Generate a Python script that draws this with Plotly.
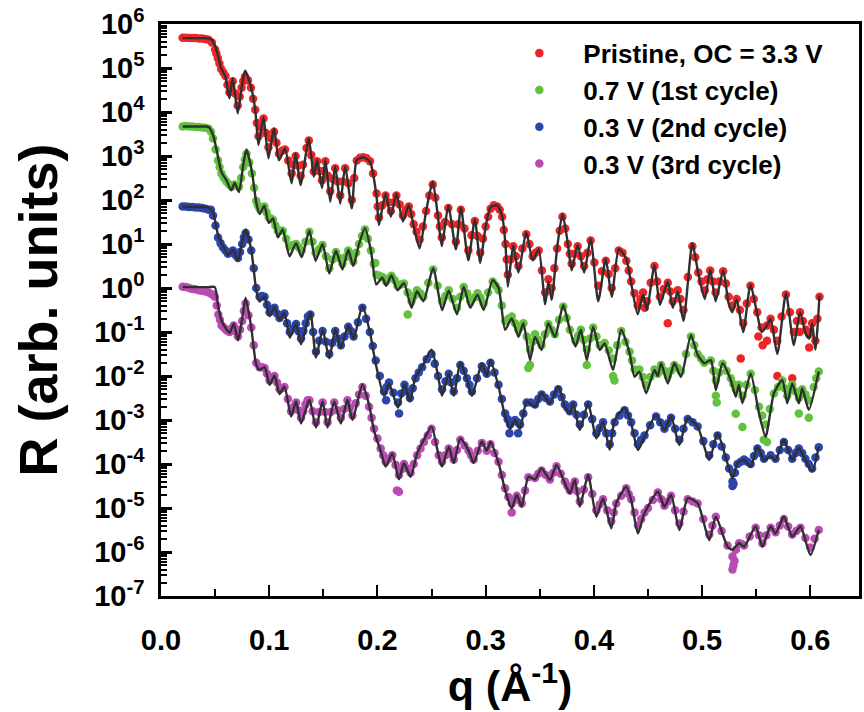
import numpy as np
import plotly.graph_objects as go

# ---------------- Pristine, OC = 3.3 V ----------------
q_red = [
    0.020, 0.023, 0.026, 0.029, 0.032, 0.035, 0.038, 0.041, 0.044, 0.047,
    0.050, 0.0525, 0.0556, 0.0596, 0.0632, 0.0663, 0.0709, 0.0745, 0.0776, 0.0831,
    0.0871, 0.0901, 0.0947, 0.0993, 0.1045, 0.1090, 0.1146, 0.1207, 0.1244, 0.1290,
    0.1366, 0.1412, 0.1442, 0.1488, 0.1519, 0.1564, 0.1610, 0.1656, 0.1702, 0.1763,
    0.1809, 0.1870, 0.1931, 0.1992, 0.2014, 0.2075, 0.2124, 0.2175, 0.2236, 0.2290,
    0.2335, 0.2390, 0.2450, 0.2511, 0.2560, 0.2595, 0.2655, 0.2725, 0.2771, 0.2840,
    0.2900, 0.2950, 0.3000, 0.3046, 0.3107, 0.3153, 0.3184, 0.3205, 0.3255, 0.3303,
    0.3375, 0.3435, 0.3490, 0.3550, 0.3580, 0.3610, 0.3660, 0.3710, 0.3760, 0.3795,
    0.3850, 0.3910, 0.3970, 0.4040, 0.4110, 0.4165, 0.4230, 0.4300, 0.4345, 0.4405,
    0.4455, 0.4490, 0.4560, 0.4610, 0.4683, 0.4729, 0.4775, 0.4828, 0.4910, 0.4965,
    0.5025, 0.5075, 0.5125, 0.5195, 0.5245, 0.5280, 0.5320, 0.5380, 0.5447, 0.5510,
    0.5550, 0.5600, 0.5633, 0.5695, 0.5775, 0.5848, 0.5905, 0.5960, 0.5990, 0.6017,
    0.6047, 0.6085]
# log10 R of the model fit
fit_red = [
    5.68, 5.68, 5.68, 5.68, 5.68, 5.68, 5.68, 5.68, 5.67, 5.64,
    5.50, 5.30, 4.99, 4.80, 4.31, 4.77, 3.97, 4.55, 4.94, 4.58,
    4.05, 3.25, 3.88, 2.95, 3.63, 2.90, 3.17, 2.38, 3.06, 2.34,
    3.40, 2.53, 2.91, 2.27, 2.91, 1.96, 2.76, 1.92, 2.76, 1.81,
    2.91, 2.97, 2.87, 2.08, 1.43, 2.15, 1.62, 2.15, 1.51, 1.89,
    1.40, 0.90, 1.75, 2.42, 1.60, 0.95, 1.87, 0.88, 1.83, 0.63,
    1.56, 0.57, 1.40, 1.84, 1.88, 1.63, 0.96, 0.03, 0.97, 0.35,
    1.27, 0.63, 0.88, -0.37, 0.15, -0.27, 0.90, 1.69, 1.00, 0.40,
    0.98, 0.35, 1.12, -0.30, 0.66, -0.20, 0.88, 0.66, 0.10, -0.60,
    -0.15, -0.50, 0.52, -0.38, 0.15, -0.45, -0.08, -0.75, 1.02, 0.33,
    -0.25, 0.42, -0.30, 0.40, -0.35, -0.55, -0.26, -1.00, 0.08, -0.60,
    -1.00, -0.85, -0.70, -1.50, -0.12, -1.30, -0.55, -1.05, -1.15, -0.80,
    -1.40, -0.17]
# log10 R of the measured reflectivity at the same q
meas_red = [
    5.69, 5.69, 5.68, 5.68, 5.68, 5.67, 5.67, 5.66, 5.64, 5.58,
    5.42, 5.22, 4.98, 4.82, 4.45, 4.70, 4.15, 4.55, 4.80, 4.55,
    4.05, 3.45, 3.85, 3.20, 3.55, 3.05, 3.15, 2.60, 3.00, 2.55,
    3.35, 2.65, 2.88, 2.45, 2.88, 2.20, 2.72, 2.10, 2.72, 2.00,
    2.90, 2.97, 2.88, 2.15, 1.60, 2.10, 1.75, 2.10, 1.65, 1.85,
    1.45, 1.10, 1.75, 2.35, 1.65, 1.15, 1.82, 1.05, 1.78, 0.85,
    1.52, 0.80, 1.40, 1.80, 1.85, 1.62, 1.00, 0.30, 0.95, 0.50,
    1.22, 0.72, 0.85, -0.10, 0.20, 0.00, 0.90, 1.62, 1.00, 0.55,
    0.95, 0.50, 1.08, 0.05, 0.62, 0.00, 0.85, 0.62, 0.15, -0.40,
    -0.10, -0.30, 0.50, -0.20, 0.12, -0.30, -0.05, -0.50, 0.95, 0.35,
    -0.05, 0.40, -0.10, 0.38, -0.20, -0.40, -0.25, -0.80, 0.05, -0.55,
    -0.90, -0.85, -0.70, -1.20, -0.15, -1.00, -0.55, -0.95, -1.05, -0.80,
    -1.20, -0.20]
# further measured points along the slopes
q_red_mid = [
    0.0512, 0.0540, 0.0576, 0.0614, 0.0648, 0.0686, 0.0727, 0.0760, 0.0803, 0.0851,
    0.0886, 0.0924, 0.0970, 0.1019, 0.1067, 0.1118, 0.1176, 0.1225, 0.1267, 0.1312,
    0.1345, 0.1389, 0.1427, 0.1465, 0.1503, 0.1541, 0.1587, 0.1633, 0.1679, 0.1732,
    0.1786, 0.1840, 0.1900, 0.1960, 0.2003, 0.2045, 0.2100, 0.2150, 0.2205, 0.2263,
    0.2312, 0.2362, 0.2420, 0.2480, 0.2535, 0.2578, 0.2625, 0.2690, 0.2748, 0.2805,
    0.2870, 0.2925, 0.2975, 0.3023, 0.3076, 0.3130, 0.3168, 0.3195, 0.3230, 0.3279,
    0.3339, 0.3405, 0.3462, 0.3520, 0.3635, 0.3685, 0.3735, 0.3778, 0.3822, 0.3880,
    0.3940, 0.4005, 0.4075, 0.4137, 0.4197, 0.4265, 0.4322, 0.4375, 0.4430, 0.4525,
    0.4585, 0.4646, 0.4706, 0.4801, 0.4869, 0.4937, 0.4995, 0.5050, 0.5100, 0.5160,
    0.5220, 0.5350, 0.5413, 0.5478, 0.5664, 0.5735, 0.5811, 0.5876, 0.5932, 0.6066]
meas_red_mid = [
    5.33, 5.10, 4.90, 4.62, 4.58, 4.42, 4.35, 4.70, 4.72, 4.30,
    3.75, 3.65, 3.52, 3.40, 3.30, 3.12, 2.90, 2.80, 2.78, 2.80,
    3.18, 3.02, 2.78, 2.66, 2.66, 2.55, 2.48, 2.42, 2.42, 2.38,
    2.50, 2.96, 2.95, 2.60, 1.85, 1.88, 1.95, 1.95, 1.90, 1.78,
    1.68, 1.28, 1.40, 2.10, 2.05, 1.40, 1.50, 1.45, 1.45, 1.35,
    1.20, 1.18, 1.12, 1.62, 1.88, 1.78, 1.32, 0.65, 0.65, 0.72,
    0.90, 1.00, 0.80, 0.40, 0.45, 1.30, 1.35, 0.78, 0.78, 0.72,
    0.80, 0.58, 0.38, 0.32, 0.45, 0.80, 0.40, -0.12, -0.25, 0.12,
    0.15, -0.02, -0.08, -0.25, 0.25, 0.70, 0.15, 0.20, 0.15, 0.15,
    0.10, -0.50, -0.35, -0.25, -0.95, -0.65, -0.55, -0.75, -0.75, -0.70]
q_red_extra = [0.4683, 0.5357, 0.5520, 0.5560, 0.5600, 0.5695, 0.5833, 0.5900, 0.5990, 0.4470]
meas_red_extra = [-0.80, -1.60, -1.10, -1.30, -1.20, -2.00, -2.05, -1.00, -1.35, -0.45]

# ---------------- 0.7 V (1st cycle) ----------------
q_green = [
    0.020, 0.023, 0.026, 0.029, 0.032, 0.035, 0.038, 0.041, 0.044, 0.0481,
    0.0527, 0.0558, 0.0604, 0.0650, 0.0681, 0.0720, 0.0760, 0.0790, 0.0840, 0.0880,
    0.0911, 0.0955, 0.0995, 0.1035, 0.1080, 0.1125, 0.1188, 0.1248, 0.1300, 0.1371,
    0.1428, 0.1493, 0.1555, 0.1616, 0.1677, 0.1730, 0.1777, 0.1830, 0.1885, 0.1940,
    0.1990, 0.2045, 0.2080, 0.2130, 0.2185, 0.2245, 0.2315, 0.2365, 0.2425, 0.2515,
    0.2597, 0.2659, 0.2735, 0.2797, 0.2858, 0.2925, 0.2981, 0.3065, 0.3120, 0.3180,
    0.3241, 0.3303, 0.3349, 0.3410, 0.3456, 0.3517, 0.3579, 0.3640, 0.3717, 0.3778,
    0.3830, 0.3880, 0.3935, 0.3993, 0.4054, 0.4100, 0.4177, 0.4253, 0.4330, 0.4376,
    0.4420, 0.4483, 0.4560, 0.4590, 0.4621, 0.4683, 0.4744, 0.4805, 0.4897, 0.4959,
    0.5020, 0.5081, 0.5127, 0.5189, 0.5265, 0.5311, 0.5340, 0.5373, 0.5449, 0.5526,
    0.5587, 0.5664, 0.5741, 0.5787, 0.5833, 0.5894, 0.5925, 0.5986, 0.6078]
fit_green = [
    3.67, 3.67, 3.67, 3.67, 3.67, 3.67, 3.67, 3.67, 3.66, 3.48,
    2.98, 2.64, 2.45, 2.22, 2.39, 2.18, 2.80, 3.15, 2.65, 1.95,
    1.68, 1.87, 1.48, 1.58, 1.15, 1.33, 0.72, 1.02, 0.70, 1.31,
    0.62, 1.00, 0.33, 0.85, 0.42, 0.87, 0.50, 1.00, 1.36, 0.85,
    0.08, 0.24, 0.05, 0.29, -0.05, 0.11, -0.45, -0.07, -0.30, 0.45,
    -0.50, -0.06, -0.60, 0.03, -0.45, -0.15, -0.50, 0.18, 0.00, -0.95,
    -0.69, -1.11, -0.80, -1.64, -1.11, -1.41, -0.80, -1.11, -0.39, -0.95,
    -1.33, -0.95, -1.64, -0.88, -1.41, -1.26, -1.86, -0.95, -1.48, -2.02,
    -1.90, -2.39, -1.86, -2.00, -1.71, -2.17, -1.71, -2.02, -1.07, -1.52,
    -1.71, -1.64, -2.32, -1.71, -2.09, -2.47, -2.20, -2.62, -1.94, -2.85,
    -3.38, -2.39, -2.09, -2.62, -2.17, -2.62, -2.28, -2.77, -1.90]
meas_green = [
    3.67, 3.68, 3.67, 3.67, 3.66, 3.66, 3.65, 3.64, 3.62, 3.40,
    2.90, 2.60, 2.42, 2.30, 2.35, 2.30, 2.75, 3.05, 2.60, 1.98,
    1.80, 1.85, 1.60, 1.55, 1.30, 1.30, 0.95, 1.00, 0.85, 1.28,
    0.80, 0.98, 0.45, 0.82, 0.55, 0.85, 0.60, 1.00, 1.33, 0.85,
    0.30, 0.25, 0.15, 0.28, 0.05, 0.10, -0.30, -0.05, -0.20, 0.42,
    -0.30, -0.05, -0.45, 0.02, -0.30, -0.12, -0.35, 0.15, -0.05, -0.75,
    -0.65, -0.95, -0.80, -1.40, -1.05, -1.30, -0.82, -1.05, -0.42, -0.95,
    -1.20, -0.95, -1.40, -0.90, -1.30, -1.25, -1.60, -0.98, -1.45, -1.85,
    -1.85, -2.20, -1.85, -1.95, -1.75, -2.00, -1.75, -1.90, -1.10, -1.50,
    -1.70, -1.65, -2.10, -1.72, -2.05, -2.30, -2.20, -2.45, -1.95, -2.70,
    -3.10, -2.40, -2.10, -2.45, -2.20, -2.50, -2.30, -2.55, -1.90]
q_green_mid = [
    0.0462, 0.0504, 0.0542, 0.0580, 0.0627, 0.0700, 0.0740, 0.0775, 0.0815, 0.0860,
    0.0895, 0.0933, 0.0975, 0.1015, 0.1057, 0.1103, 0.1156, 0.1218, 0.1274, 0.1335,
    0.1400, 0.1460, 0.1524, 0.1585, 0.1646, 0.1703, 0.1753, 0.1803, 0.1857, 0.1912,
    0.1965, 0.2018, 0.2105, 0.2158, 0.2215, 0.2280, 0.2340, 0.2395, 0.2470, 0.2556,
    0.2628, 0.2697, 0.2766, 0.2828, 0.2892, 0.2953, 0.3023, 0.3093, 0.3150, 0.3210,
    0.3272, 0.3326, 0.3380, 0.3433, 0.3486, 0.3548, 0.3610, 0.3678, 0.3748, 0.3855,
    0.3908, 0.3964, 0.4024, 0.4138, 0.4215, 0.4292, 0.4353, 0.4452, 0.4522, 0.4652,
    0.4714, 0.4775, 0.4851, 0.4928, 0.4990, 0.5104, 0.5158, 0.5227, 0.5288, 0.5411,
    0.5488, 0.5556, 0.5625, 0.5702, 0.5764, 0.5810, 0.5863, 0.5955, 0.6032, 0.6055]
meas_green_mid = [
    3.55, 3.15, 2.75, 2.50, 2.36, 2.32, 2.50, 2.92, 2.85, 2.28,
    1.88, 1.82, 1.72, 1.58, 1.42, 1.30, 1.12, 0.98, 0.92, 1.05,
    1.05, 0.88, 0.72, 0.65, 0.68, 0.70, 0.72, 0.80, 1.18, 1.12,
    0.55, 0.28, 0.22, 0.18, 0.08, -0.10, -0.18, -0.12, 0.12, 0.05,
    -0.18, -0.25, -0.20, -0.12, -0.22, -0.22, -0.10, 0.05, -0.40, -0.70,
    -0.80, -0.88, -1.10, -1.22, -1.18, -1.05, -0.95, -0.72, -0.68, -1.08,
    -1.18, -1.15, -1.10, -1.42, -1.30, -1.22, -1.65, -2.02, -2.02, -1.88,
    -1.88, -1.82, -1.50, -1.30, -1.60, -1.88, -1.92, -1.88, -2.18, -2.20,
    -2.32, -2.90, -2.75, -2.25, -2.28, -2.32, -2.35, -2.42, -2.25, -2.05]
q_green_extra = [0.1980, 0.2280, 0.3395, 0.3410, 0.3935, 0.4177, 0.4190, 0.5127,
                 0.5135, 0.5311, 0.5373, 0.5570, 0.5600, 0.5894, 0.5986]
meas_green_extra = [0.57, -0.60, -1.82, -1.75, -1.75, -2.00, -2.10, -2.45,
                    -2.60, -2.86, -3.16, -3.45, -3.50, -2.85, -2.95]

# ---------------- 0.3 V (2nd cycle) ----------------
q_blue = [
    0.020, 0.023, 0.026, 0.029, 0.032, 0.035, 0.038, 0.041, 0.044, 0.0481,
    0.0527, 0.0573, 0.0619, 0.0665, 0.0711, 0.0750, 0.0782, 0.0834, 0.0880, 0.0911,
    0.0957, 0.1003, 0.1049, 0.1095, 0.1141, 0.1190, 0.1248, 0.1294, 0.1380, 0.1432,
    0.1493, 0.1555, 0.1610, 0.1662, 0.1730, 0.1780, 0.1861, 0.1930, 0.1984, 0.2061,
    0.2107, 0.2190, 0.2250, 0.2300, 0.2352, 0.2413, 0.2500, 0.2560, 0.2597, 0.2659,
    0.2705, 0.2766, 0.2827, 0.2873, 0.2965, 0.3010, 0.3045, 0.3119, 0.3180, 0.3226,
    0.3272, 0.3318, 0.3379, 0.3456, 0.3517, 0.3594, 0.3671, 0.3732, 0.3778, 0.3809,
    0.3870, 0.3947, 0.4023, 0.4085, 0.4146, 0.4192, 0.4284, 0.4345, 0.4407, 0.4468,
    0.4575, 0.4652, 0.4713, 0.4790, 0.4867, 0.4959, 0.5066, 0.5143, 0.5219, 0.5281,
    0.5327, 0.5388, 0.5449, 0.5511, 0.5572, 0.5633, 0.5679, 0.5756, 0.5833, 0.5894,
    0.5955, 0.6017, 0.6078]
fit_blue = [
    1.84, 1.84, 1.84, 1.84, 1.84, 1.84, 1.84, 1.84, 1.83, 1.71,
    1.21, 0.96, 0.75, 0.87, 0.62, 1.05, 1.33, 0.87, -0.05, -0.31,
    -0.18, -0.64, -0.43, -0.73, -0.56, -1.13, -0.81, -1.28, -0.55, -1.58,
    -0.95, -1.60, -0.95, -1.37, -0.85, -1.15, -0.40, -1.00, -1.72, -2.45,
    -2.17, -2.72, -2.18, -2.58, -2.02, -1.79, -1.40, -2.00, -2.45, -1.94,
    -2.45, -1.70, -2.09, -2.45, -1.72, -2.00, -1.65, -2.24, -2.92, -3.20,
    -3.00, -3.20, -2.58, -2.70, -2.39, -2.62, -2.24, -2.70, -2.85, -2.62,
    -3.23, -2.62, -3.42, -3.04, -3.68, -3.00, -2.73, -3.08, -3.68, -3.38,
    -2.89, -3.23, -2.92, -3.57, -2.96, -3.15, -3.91, -3.30, -3.85, -4.33,
    -3.98, -3.91, -4.06, -3.61, -3.91, -3.83, -3.91, -3.45, -3.91, -3.64,
    -3.91, -4.17, -3.61]
meas_blue = [
    1.85, 1.85, 1.84, 1.84, 1.83, 1.83, 1.82, 1.80, 1.78, 1.65,
    1.15, 0.92, 0.78, 0.85, 0.68, 1.00, 1.25, 0.85, 0.00, -0.20,
    -0.20, -0.55, -0.45, -0.68, -0.58, -1.00, -0.82, -1.15, -0.60, -1.45,
    -0.98, -1.50, -0.98, -1.30, -0.88, -1.10, -0.45, -1.00, -1.65, -2.35,
    -2.15, -2.60, -2.20, -2.50, -2.05, -1.80, -1.50, -2.00, -2.30, -1.95,
    -2.35, -1.75, -2.05, -2.35, -1.78, -1.95, -1.70, -2.20, -2.85, -3.10,
    -3.00, -3.10, -2.60, -2.65, -2.42, -2.58, -2.30, -2.65, -2.80, -2.65,
    -3.10, -2.65, -3.30, -3.05, -3.55, -3.05, -2.78, -3.05, -3.55, -3.35,
    -2.92, -3.20, -2.95, -3.45, -2.98, -3.15, -3.80, -3.35, -3.85, -4.40,
    -4.00, -3.90, -4.00, -3.65, -3.88, -3.80, -3.88, -3.50, -3.88, -3.65,
    -3.88, -4.10, -3.62]
q_blue_mid = [
    0.0462, 0.0504, 0.0550, 0.0596, 0.0642, 0.0688, 0.0730, 0.0766, 0.0808, 0.0857,
    0.0934, 0.0980, 0.1026, 0.1072, 0.1118, 0.1165, 0.1219, 0.1271, 0.1315, 0.1337,
    0.1358, 0.1406, 0.1462, 0.1524, 0.1582, 0.1636, 0.1696, 0.1755, 0.1820, 0.1895,
    0.1957, 0.2022, 0.2084, 0.2148, 0.2220, 0.2275, 0.2326, 0.2382, 0.2456, 0.2530,
    0.2630, 0.2682, 0.2735, 0.2797, 0.2850, 0.2920, 0.2987, 0.3082, 0.3150, 0.3203,
    0.3295, 0.3348, 0.3418, 0.3486, 0.3555, 0.3632, 0.3702, 0.3755, 0.3840, 0.3908,
    0.3985, 0.4054, 0.4115, 0.4169, 0.4238, 0.4315, 0.4376, 0.4437, 0.4520, 0.4613,
    0.4682, 0.4751, 0.4828, 0.4913, 0.5012, 0.5104, 0.5181, 0.5250, 0.5304, 0.5358,
    0.5418, 0.5480, 0.5542, 0.5718, 0.5795, 0.5864, 0.5925, 0.5986, 0.6048]
meas_blue_mid = [
    1.78, 1.42, 1.02, 0.85, 0.80, 0.75, 0.82, 1.15, 1.10, 0.45,
    -0.18, -0.38, -0.50, -0.58, -0.62, -0.80, -0.92, -0.98, -0.98, -0.80,
    -0.65, -1.00, -1.20, -1.22, -1.25, -1.15, -1.10, -0.98, -0.78, -0.70,
    -1.32, -2.00, -2.25, -2.38, -2.40, -2.35, -2.28, -1.92, -1.62, -1.72,
    -2.12, -2.15, -2.05, -1.88, -2.20, -2.05, -1.85, -1.92, -2.52, -2.98,
    -3.05, -2.85, -2.60, -2.52, -2.50, -2.42, -2.48, -2.72, -2.88, -2.88,
    -2.98, -3.18, -3.30, -3.30, -2.90, -2.90, -3.30, -3.45, -3.12, -3.05,
    -3.08, -3.20, -3.20, -3.05, -3.48, -3.55, -3.60, -4.10, -4.20, -3.95,
    -3.95, -3.82, -3.75, -3.68, -3.68, -3.75, -3.75, -4.00, -3.85]
q_blue_extra = [0.2200, 0.3220, 0.3300, 0.5281, 0.5290, 0.2080]
meas_blue_extra = [-2.85, -3.30, -3.30, -4.50, -4.45, -2.55]

# ---------------- 0.3 V (3rd cycle) ----------------
q_mag = [
    0.020, 0.023, 0.026, 0.029, 0.032, 0.035, 0.038, 0.041, 0.044, 0.0497,
    0.0530, 0.0560, 0.0600, 0.0635, 0.0672, 0.0711, 0.0750, 0.0782, 0.0834, 0.0880,
    0.0911, 0.0957, 0.1003, 0.1049, 0.1095, 0.1141, 0.1202, 0.1248, 0.1294, 0.1371,
    0.1432, 0.1493, 0.1539, 0.1601, 0.1662, 0.1723, 0.1769, 0.1861, 0.1923, 0.1969,
    0.2030, 0.2076, 0.2137, 0.2199, 0.2245, 0.2306, 0.2367, 0.2429, 0.2500, 0.2567,
    0.2597, 0.2659, 0.2705, 0.2766, 0.2843, 0.2889, 0.2965, 0.3010, 0.3045, 0.3119,
    0.3180, 0.3241, 0.3287, 0.3333, 0.3395, 0.3456, 0.3517, 0.3594, 0.3655, 0.3732,
    0.3778, 0.3824, 0.3870, 0.3947, 0.4023, 0.4085, 0.4161, 0.4207, 0.4299, 0.4345,
    0.4407, 0.4468, 0.4591, 0.4652, 0.4713, 0.4790, 0.4867, 0.4959, 0.5066, 0.5127,
    0.5235, 0.5281, 0.5342, 0.5388, 0.5495, 0.5557, 0.5633, 0.5679, 0.5756, 0.5833,
    0.5909, 0.6001, 0.6078]
fit_mag = [
    0.02, 0.02, 0.02, 0.02, 0.02, 0.02, 0.02, 0.02, 0.02, 0.02,
    -0.45, -0.75, -0.92, -1.02, -0.81, -1.19, -0.70, -0.22, -0.90, -1.74,
    -1.86, -1.80, -2.20, -1.99, -2.41, -2.24, -2.92, -2.58, -3.08, -2.54,
    -3.17, -2.58, -3.17, -2.58, -3.08, -2.54, -3.00, -2.20, -2.66, -3.25,
    -3.70, -4.06, -3.76, -4.35, -3.98, -4.29, -3.76, -3.45, -3.15, -3.83,
    -4.06, -3.61, -3.98, -3.42, -3.70, -3.98, -3.49, -3.70, -3.50, -3.98,
    -4.59, -5.01, -4.70, -4.97, -4.29, -4.35, -4.10, -4.36, -4.02, -4.44,
    -4.67, -4.36, -4.97, -4.25, -5.20, -4.78, -5.46, -4.89, -4.52, -4.82,
    -5.58, -5.12, -4.63, -4.97, -4.70, -5.50, -4.78, -4.89, -5.73, -5.20,
    -5.88, -5.95, -5.80, -5.88, -5.42, -5.88, -5.42, -5.58, -5.20, -5.65,
    -5.42, -6.07, -5.50]
meas_mag = [
    0.03, 0.02, 0.00, -0.02, -0.03, -0.05, -0.06, -0.08, -0.10, -0.20,
    -0.60, -0.85, -0.95, -1.00, -0.85, -1.10, -0.75, -0.35, -0.90, -1.70,
    -1.80, -1.82, -2.10, -2.00, -2.30, -2.25, -2.80, -2.60, -2.95, -2.55,
    -3.05, -2.60, -3.05, -2.60, -2.95, -2.55, -2.90, -2.25, -2.70, -3.20,
    -3.65, -3.95, -3.80, -4.25, -4.00, -4.20, -3.80, -3.50, -3.20, -3.80,
    -3.95, -3.65, -3.90, -3.45, -3.70, -3.90, -3.52, -3.70, -3.55, -3.95,
    -4.55, -4.90, -4.72, -4.90, -4.30, -4.32, -4.15, -4.35, -4.05, -4.40,
    -4.60, -4.40, -4.85, -4.30, -5.05, -4.80, -5.30, -4.90, -4.55, -4.80,
    -5.40, -5.10, -4.65, -4.95, -4.72, -5.35, -4.80, -4.90, -5.60, -5.20,
    -5.85, -6.10, -5.80, -5.85, -5.45, -5.80, -5.45, -5.55, -5.25, -5.60,
    -5.45, -5.90, -5.50]
q_mag_mid = [
    0.0470, 0.0515, 0.0545, 0.0580, 0.0618, 0.0654, 0.0692, 0.0730, 0.0766, 0.0808,
    0.0857, 0.0934, 0.0980, 0.1026, 0.1072, 0.1118, 0.1172, 0.1225, 0.1271, 0.1315,
    0.1335, 0.1355, 0.1402, 0.1462, 0.1516, 0.1570, 0.1632, 0.1692, 0.1746, 0.1800,
    0.1830, 0.1892, 0.1946, 0.2000, 0.2053, 0.2106, 0.2168, 0.2222, 0.2276, 0.2336,
    0.2398, 0.2465, 0.2533, 0.2628, 0.2682, 0.2735, 0.2805, 0.2866, 0.2927, 0.3082,
    0.3150, 0.3210, 0.3264, 0.3310, 0.3364, 0.3486, 0.3555, 0.3625, 0.3694, 0.3755,
    0.3801, 0.3847, 0.3908, 0.3985, 0.4054, 0.4123, 0.4184, 0.4253, 0.4322, 0.4376,
    0.4437, 0.4500, 0.4545, 0.4622, 0.4682, 0.4751, 0.4828, 0.4913, 0.5012, 0.5096,
    0.5180, 0.5312, 0.5365, 0.5440, 0.5526, 0.5595, 0.5718, 0.5795, 0.5871, 0.5955,
    0.6040]
meas_mag_mid = [
    -0.14, -0.40, -0.72, -0.90, -0.98, -0.92, -0.98, -0.95, -0.52, -0.62,
    -1.30, -1.80, -1.95, -2.05, -2.15, -2.28, -2.52, -2.70, -2.78, -2.80,
    -2.65, -2.55, -2.80, -2.82, -2.82, -2.82, -2.78, -2.75, -2.72, -2.62,
    -2.42, -2.45, -2.95, -3.42, -3.80, -3.88, -4.02, -4.12, -4.10, -4.00,
    -3.65, -3.35, -3.50, -3.80, -3.78, -3.68, -3.58, -3.80, -3.70, -3.75,
    -4.25, -4.75, -4.82, -4.82, -4.60, -4.22, -4.25, -4.20, -4.22, -4.50,
    -4.50, -4.62, -4.58, -4.68, -4.92, -5.05, -5.10, -4.72, -4.68, -5.10,
    -5.25, -5.00, -4.82, -4.80, -4.85, -5.05, -5.08, -4.85, -5.25, -5.40,
    -5.52, -5.95, -5.82, -5.65, -5.62, -5.62, -5.40, -5.42, -5.52, -5.68,
    -5.70]
q_mag_extra = [0.2180, 0.2199, 0.3241, 0.5281, 0.5290, 0.5300]
meas_mag_extra = [-4.60, -4.63, -5.10, -6.40, -6.30, -6.20]

labels = ["Pristine, OC = 3.3 V", "0.7 V (1st cycle)", "0.3 V (2nd cycle)", "0.3 V (3rd cycle)"]
colors = ["#ec2628", "#62c23e", "#2b45ab", "#b84cb2"]
curves = [
    (q_red, meas_red, fit_red, q_red_mid, meas_red_mid, q_red_extra, meas_red_extra),
    (q_green, meas_green, fit_green, q_green_mid, meas_green_mid, q_green_extra, meas_green_extra),
    (q_blue, meas_blue, fit_blue, q_blue_mid, meas_blue_mid, q_blue_extra, meas_blue_extra),
    (q_mag, meas_mag, fit_mag, q_mag_mid, meas_mag_mid, q_mag_extra, meas_mag_extra),
]
for q, m, f, qm, mm, qx, mx in curves:
    assert len(q) == len(m) == len(f), (len(q), len(m), len(f))
    assert len(qm) == len(mm), (len(qm), len(mm))
    assert len(qx) == len(mx)

fig = go.Figure()

# measured points
for name, color, (q, m, f, qm, mm, qx, mx) in zip(labels, colors, curves):
    fig.add_trace(go.Scatter(
        x=list(q) + list(qm) + list(qx),
        y=np.power(10.0, np.array(list(m) + list(mm) + list(mx))),
        mode="markers", name=name,
        marker=dict(color=color, size=8.5, line=dict(width=0)),
    ))

# model fits drawn over the data
for q, m, f, qm, mm, qx, mx in curves:
    fig.add_trace(go.Scatter(
        x=q, y=np.power(10.0, np.array(f)),
        mode="lines", showlegend=False, hoverinfo="skip",
        line=dict(color="#2f2f2f", width=2.4, shape="spline", smoothing=0.6),
    ))

font_family = "Liberation Sans, Arial, Helvetica, sans-serif"
decades = list(range(-7, 7))
minor_vals = [k * 10.0 ** e for e in range(-7, 6) for k in range(2, 10)]
x_major = [0.0, 0.1, 0.2, 0.3, 0.4, 0.5, 0.6]
x_minor = [0.05, 0.15, 0.25, 0.35, 0.45, 0.55]

fig.update_layout(
    width=864, height=712,
    margin=dict(l=161, r=2, t=24, b=116),
    paper_bgcolor="white", plot_bgcolor="white",
    font=dict(family=font_family, color="black"),
    showlegend=True,
    legend=dict(
        x=0.479, y=0.99, xanchor="left", yanchor="top",
        font=dict(size=26, weight="bold", family=font_family),
        itemwidth=78, bgcolor="rgba(0,0,0,0)", borderwidth=0,
    ),
    xaxis=dict(
        range=[0, 0.645], showgrid=False, zeroline=False,
        showline=True, linewidth=2.5, linecolor="black", mirror=True,
        tickmode="array", tickvals=x_major,
        ticktext=["%.1f" % v for v in x_major],
        ticks="inside", ticklen=11, tickwidth=2, tickcolor="black",
        tickfont=dict(size=29, weight="bold", family=font_family),
        ticklabelstandoff=16,
        minor=dict(tickmode="array", tickvals=x_minor, ticks="inside",
                   ticklen=7, tickwidth=2, tickcolor="black", showgrid=False),
        title=dict(text="q (Å<sup>-1</sup>)", standoff=14,
                   font=dict(size=43, weight="bold", family=font_family)),
    ),
    yaxis=dict(
        type="log", range=[-7, 6], showgrid=False, zeroline=False,
        showline=True, linewidth=2.5, linecolor="black", mirror=True,
        tickmode="array", tickvals=[10.0 ** e for e in decades],
        ticktext=["10<sup>%d</sup>" % e for e in decades],
        ticks="inside", ticklen=11, tickwidth=2.5, tickcolor="black",
        tickfont=dict(size=29, weight="bold", family=font_family),
        ticklabelstandoff=8,
        minor=dict(tickmode="array", tickvals=minor_vals, ticks="inside",
                   ticklen=6, tickwidth=1.5, tickcolor="black", showgrid=False),
        title=dict(text="R (arb. units)", standoff=20,
                   font=dict(size=54, weight="bold", family=font_family)),
    ),
)

fig.write_html("out.html")
